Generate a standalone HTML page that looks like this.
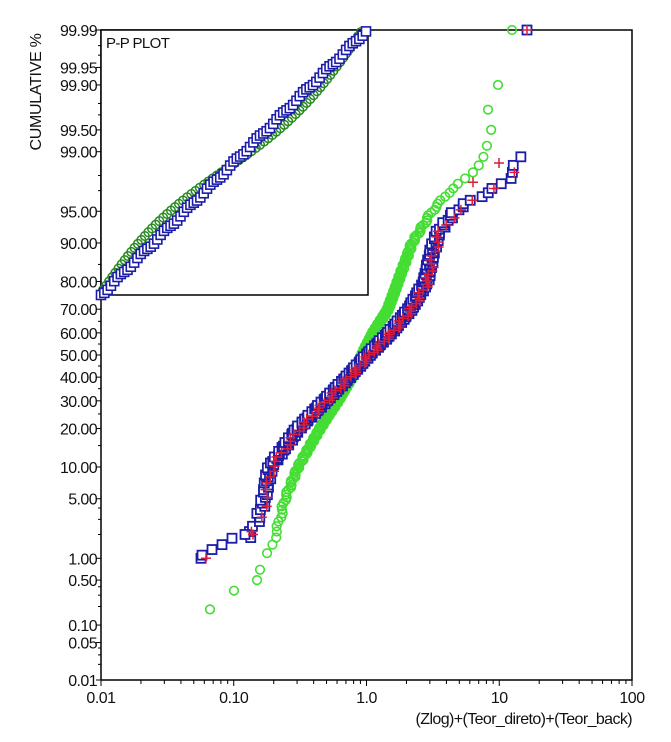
<!DOCTYPE html><html><head><style>body{margin:0;background:#fff}svg{display:block;font-family:"Liberation Sans",Arial,sans-serif}</style></head><body>
<svg id="s" width="671" height="742" xmlns="http://www.w3.org/2000/svg"></svg>
<script>
function ninv(p){var a=[-39.69683028665376,220.9460984245205,-275.9285104469687,138.357751867269,-30.66479806614716,2.506628277459239],b=[-54.47609879822406,161.5858368580409,-155.6989798598866,66.80131188771972,-13.28068155288572],c=[-0.007784894002430293,-0.3223964580411365,-2.400758277161838,-2.549732539343734,4.374664141464968,2.938163982698783],d=[0.007784695709041462,0.3224671290700398,2.445134137142996,3.754408661907416],q,r;
if(p<0.02425){q=Math.sqrt(-2*Math.log(p));return(((((c[0]*q+c[1])*q+c[2])*q+c[3])*q+c[4])*q+c[5])/((((d[0]*q+d[1])*q+d[2])*q+d[3])*q+1);}
if(p>1-0.02425){q=Math.sqrt(-2*Math.log(1-p));return-(((((c[0]*q+c[1])*q+c[2])*q+c[3])*q+c[4])*q+c[5])/((((d[0]*q+d[1])*q+d[2])*q+d[3])*q+1);}
q=p-0.5;r=q*q;return(((((a[0]*r+a[1])*r+a[2])*r+a[3])*r+a[4])*r+a[5])*q/(((((b[0]*r+b[1])*r+b[2])*r+b[3])*r+b[4])*r+1);}
var Z=ninv(0.9999),Y=function(p){return 355-ninv(p/100)*325/Z;};
var h='';
function T(x,y,t,anc,sz,ls){h+='<text x="'+x+'" y="'+y+'" font-size="'+(sz||16)+'" text-anchor="'+(anc||'end')+'" fill="#111"'+(ls?' letter-spacing="'+ls+'"':'')+'>'+t+'</text>';}
h+='<rect x="101" y="30" width="531" height="650" fill="none" stroke="#000" stroke-width="1.5"/>';
var labs=[0.01,0.05,0.10,0.50,1,5,10,20,30,40,50,60,70,80,90,95,99,99.5,99.9,99.95,99.99];
labs.forEach(function(p){var y=Y(p);h+='<line x1="96" x2="101" y1="'+y+'" y2="'+y+'" stroke="#000"/>';T(97,y+6,p.toFixed(2),'end',16,-0.6);});
[0.02,0.03,0.04,0.2,0.3,0.4,2,3,4,15,25,35,45,55,65,75,85,97,98,99.7,99.8,99.97,99.98].forEach(function(p){var y=Y(p);h+='<line x1="98" x2="101" y1="'+y+'" y2="'+y+'" stroke="#000"/>';});
['0.01','0.10','1.0','10','100'].forEach(function(t,i){var x=101+i*132.75;h+='<line x1="'+x+'" x2="'+x+'" y1="680" y2="686" stroke="#000"/>';T(x,703,t,'middle',16,-0.5);
 if(i<4)for(var k=2;k<10;k++){var xx=x+Math.log10(k)*132.75;h+='<line x1="'+xx+'" x2="'+xx+'" y1="680" y2="684" stroke="#000"/>';}});
T(632,724,'(Zlog)+(Teor_direto)+(Teor_back)','end',16,-0.6);
h+='<text transform="translate(41,92) rotate(-90)" font-size="16" text-anchor="middle" fill="#111" letter-spacing="-0.3">CUMULATIVE %</text>';
function interp(an,p){var z=ninv(p/100);for(var i=0;i<an.length-1;i++){var z0=ninv(an[i][0]/100),z1=ninv(an[i+1][0]/100);if(z<=z1||i==an.length-2){var t=(z-z0)/(z1-z0);return an[i][1]+t*(an[i+1][1]-an[i][1]);}}}
var blue=[[2,250],[3,258],[5,264],[10,270],[20,298],[30,325],[40,348],[50,368],[60,390],[70,410],[80,426],[88,432],[92,438],[95,455],[96,468],[97,492],[98,512],[98.8,519],[99,521]];
var green=[[1,266],[2,276],[5,285],[10,298],[20,320],[30,338],[40,352],[50,362],[60,373],[70,388],[80,398],[90,412],[95,432],[97,450],[98,470],[99,487],[99.5,492]];
var N=300,sq='',cr='',ci='';
for(var i=5;i<N;i++){var p=(i+0.5)/N*100;if(p>98.9)break;var x=interp(blue,p)+Math.sin(i*1.7)*3,y=Y(p);sq+='<rect x="'+(x-4.5)+'" y="'+(y-4.5)+'" width="9" height="9"/>';
 if(i%3==0){var xr=x+2;cr+='M'+(xr-5)+' '+y+'h10M'+xr+' '+(y-5)+'v10';}}
[[1,201],[1.1,202],[1.3,212],[1.5,222],[1.8,232],[2,245]].forEach(function(a){sq+='<rect x="'+(a[1]-4.5)+'" y="'+(Y(a[0])-4.5)+'" width="9" height="9"/>';});
sq+='<rect x="522.5" y="25.5" width="9" height="9"/>';cr+='M522 30h10M527 25v10M201 '+Y(1)+'h10M206 '+(Y(1)-5)+'v10M248 '+Y(2)+'h10M253 '+(Y(2)-5)+'v10M494 '+Y(98.6)+'h10M499 '+(Y(98.6)-5)+'v10M468 '+Y(97.6)+'h10M473 '+(Y(97.6)-5)+'v10';
for(var i=3;i<N;i++){var p=(i+0.5)/N*100;if(p<1||p>99.5)continue;var x=interp(green,p)+Math.cos(i*1.3)*1.5,y=Y(p);ci+='<circle cx="'+x+'" cy="'+y+'" r="4.3"/>';}
[[0.18,210],[0.35,234],[0.5,257],[0.7,260],[99.75,488],[99.9,498],[99.99,512]].forEach(function(a){ci+='<circle cx="'+a[1]+'" cy="'+(a[0]==99.99?30:Y(a[0]))+'" r="4.3"/>';});
h+='<g fill="none" stroke="#44dd33" stroke-width="1.6">'+ci+'</g>';
h+='<g fill="#fff" stroke="#1c1ca8" stroke-width="1.8">'+sq+'</g>';
h+='<path d="'+cr+'" stroke="#d81e3c" stroke-width="1.5" fill="none"/>';
h+='<rect x="101" y="30" width="267" height="265" fill="#fff" stroke="#000" stroke-width="1.5"/>';
T(106,48,'P-P PLOT','start',15,-0.6);
var is='',ic='';
for(var i=0;i<=80;i++){var t=i/80;var x=101+t*265,y=295-t*264+Math.sin(i*0.9)*1.5;is+='<rect x="'+(x-4.5)+'" y="'+(y-4.5)+'" width="9" height="9"/>';}
for(var i=0;i<=70;i++){var t=i/70;var off=(t<0.45?-9*Math.sin(t/0.45*Math.PI):12*Math.sin((t-0.45)/0.55*Math.PI));var x=103+t*258+off*0.7,y=290-t*258+off*0.7;ic+='<circle cx="'+x+'" cy="'+y+'" r="4.3"/>';}
h+='<g fill="none" stroke="#2a8a22" stroke-width="1.5">'+ic+'</g><g fill="#fff" stroke="#1c1ca8" stroke-width="1.6">'+is+'</g>';
document.getElementById('s').innerHTML=h;
</script></body></html>
